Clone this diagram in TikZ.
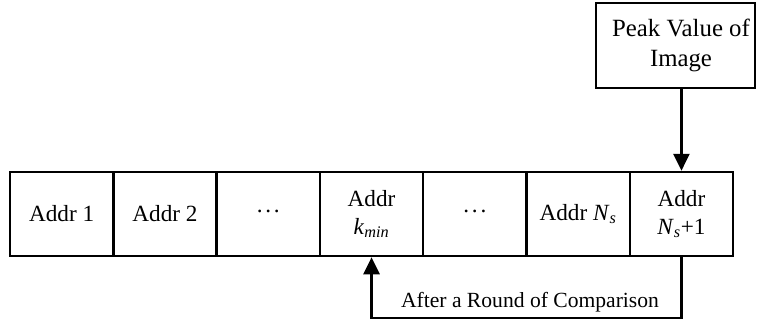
\documentclass[tikz,border=0pt]{standalone}
\usepackage{fontspec}
\setmainfont{Liberation Serif}
\usetikzlibrary{arrows.meta}
\newlength{\du}
\setlength{\du}{0.75pt}
\newcommand{\middots}{\raisebox{0.22em}{.\kern0.12em.\kern0.12em.}}
\tikzset{
  addrcell/.style={draw, line width=2.5\du, minimum width=103.3\du, minimum height=84\du,
    inner sep=0pt, align=center, font=\fontsize{17.4}{21}\selectfont},
  peakbox/.style={draw, line width=2.5\du, minimum width=159\du, minimum height=85\du,
    inner sep=0pt, align=center, font=\fontsize{18.6}{23}\selectfont},
  flow/.style={line width=2.5\du, -{Triangle[length=12.75pt,width=12pt]}}
}

\begin{document}
\begin{tikzpicture}
\pgftransformxscale{1.000000}
\pgftransformyscale{-1.000000}
\useasboundingbox (0\du,0\du) rectangle (757\du,325\du);
% address row
\node[addrcell] (addr1) at (61.65\du,214\du){Addr 1};
\node[addrcell] (addr2) at (164.95\du,214\du){Addr 2};
\node[addrcell] (dotsa) at (268.25\du,214\du){\middots};
\node[addrcell] (kmin) at (371.55\du,214\du){Addr\\\textit{k}\textsubscript{\textit{min}}};
\node[addrcell] (dotsb) at (474.85\du,214\du){\middots};
\node[addrcell] (addrns) at (578.15\du,214\du){Addr \textit{N}\textsubscript{\textit{s}}};
\node[addrcell] (addrnext) at (681.45\du,214\du){Addr\\\textit{N}\textsubscript{\textit{s}}+1};
% peak value
\node[peakbox] (peak) at (675.5\du,45.5\du){\hspace*{11\du}Peak Value of\\\hspace*{11\du}Image};
\draw[flow] (peak.south -| addrnext.north)--(addrnext.north);
% after a round
\coordinate (loop) at (0\du,318\du);
\draw[flow] (addrnext.south)--(addrnext.south |- loop)--(kmin.south |- loop)--(kmin.south);
\node[font=\fontsize{16.2}{19}\selectfont] (roundlabel) at (530\du,302\du){After a Round of Comparison};
\end{tikzpicture}
\end{document}
